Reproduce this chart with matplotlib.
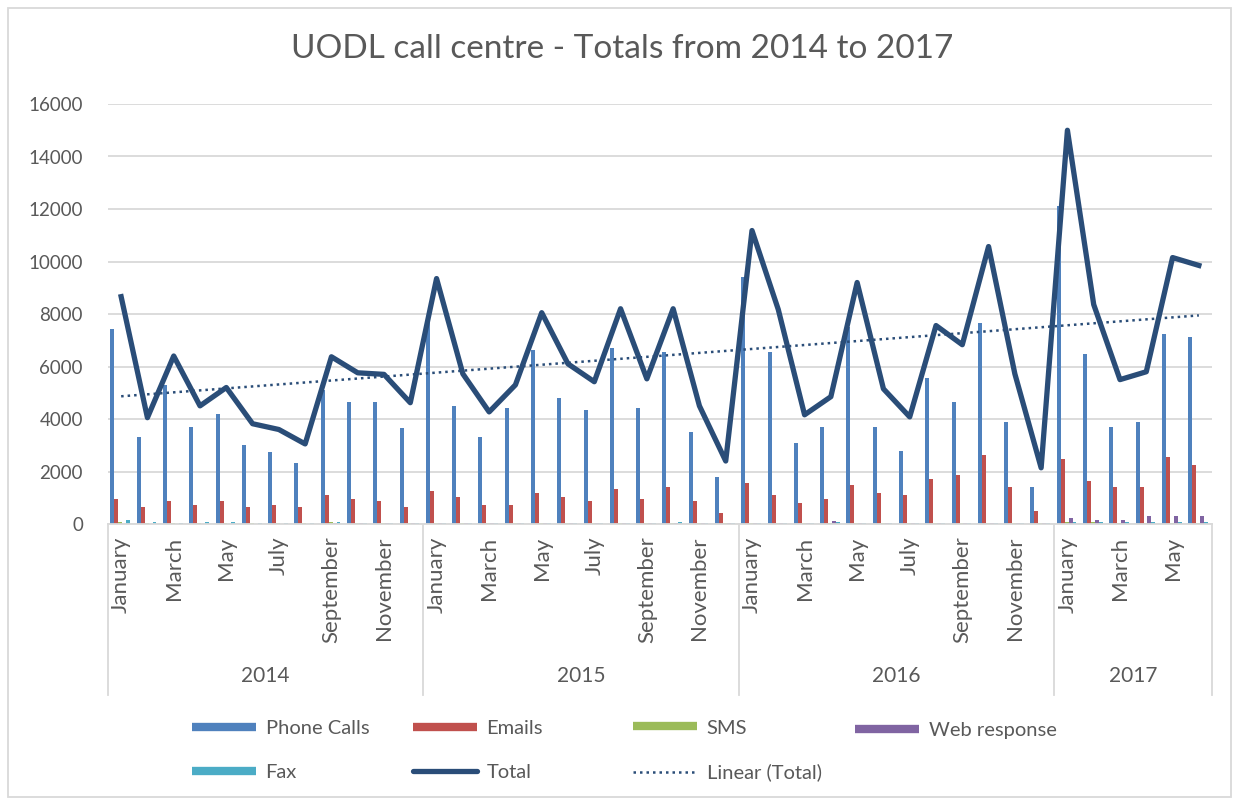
import matplotlib
matplotlib.use("Agg")
import matplotlib.pyplot as plt
from matplotlib.lines import Line2D
from matplotlib.patches import Rectangle
import matplotlib.transforms as mtransforms
import numpy as np

plt.rcParams['font.family'] = ['Lato', 'DejaVu Sans']

years = ["2014", "2015", "2016", "2017"]
months_per_year = [12, 12, 12, 6]
month_names = ["January", "February", "March", "April", "May", "June", "July",
               "August", "September", "October", "November", "December"]

phone = [7440, 3300, 5300, 3680, 4200, 3000, 2760, 2330, 5100, 4660, 4660, 3670,
         7800, 4500, 3300, 4430, 6620, 4800, 4350, 6690, 4430, 6540, 3520, 1800,
         9400, 6540, 3090, 3680, 7500, 3680, 2790, 5550, 4650, 7660, 3900, 1410,
         12100, 6470, 3680, 3900, 7220, 7140]
emails = [970, 660, 890, 740, 890, 660, 740, 660, 1110, 970, 890, 660,
          1270, 1030, 740, 740, 1200, 1030, 890, 1340, 970, 1410, 890, 430,
          1570, 1110, 810, 970, 1490, 1200, 1110, 1720, 1860, 2620, 1410, 510,
          2470, 1650, 1420, 1420, 2550, 2250]
sms = [60, 50, 40, 40, 50, 40, 30, 40, 60, 40, 50, 40,
       40, 30, 30, 30, 30, 40, 40, 40, 40, 50, 40, 40,
       40, 40, 40, 40, 50, 40, 40, 40, 40, 40, 40, 40,
       60, 60, 40, 40, 50, 40]
web = [10, 10, 10, 10, 10, 10, 10, 10, 40, 40, 50, 50,
       40, 40, 50, 40, 50, 50, 40, 50, 50, 50, 40, 50,
       50, 40, 50, 100, 50, 50, 50, 40, 40, 50, 40, 40,
       240, 160, 140, 300, 300, 300]
fax = [150, 70, 50, 60, 60, 50, 40, 50, 60, 50, 50, 50,
       50, 40, 50, 40, 50, 50, 50, 50, 50, 60, 50, 50,
       50, 50, 50, 60, 40, 50, 50, 50, 40, 50, 50, 50,
       80, 90, 60, 60, 70, 60]
total = [8660, 4050, 6400, 4500, 5200, 3820, 3600, 3050, 6370, 5760, 5700, 4620,
         9350, 5720, 4270, 5300, 8050, 6100, 5420, 8200, 5530, 8200, 4500, 2400,
         11180, 8170, 4160, 4850, 9200, 5150, 4080, 7560, 6830, 10570, 5720, 2140,
         15000, 8360, 5500, 5800, 10150, 9850]

series_names = ["Phone Calls", "Emails", "SMS", "Web response", "Fax"]
series_vals = [phone, emails, sms, web, fax]
colors = ["#4F81BD", "#C0504D", "#9BBB59", "#8064A2", "#4BACC6"]
total_color = "#2A4D78"
grey_text = "#595959"
grid_color = "#D9D9D9"

W, H = 1239, 805
fig = plt.figure(figsize=(W / 100, H / 100), dpi=100)
fig.patch.set_facecolor("white")
ax = fig.add_axes([108 / W, 1 - 524 / H, (1212 - 108) / W, (524 - 104) / H])

n = len(total)
x = np.arange(n)
bw = 0.15
for i, (name, vals, c) in enumerate(zip(series_names, series_vals, colors)):
    ax.bar(x + (i - 2) * bw - 0.03, vals, width=bw, color=c, label=name, zorder=2)

ax.plot(x, total, color=total_color, lw=3.8, solid_joinstyle="round", zorder=4)
coef = np.polyfit(x, total, 1)
trend = np.polyval(coef, x)
ax.plot(x, trend, color=total_color, lw=1.8, linestyle=(0, (1, 1.6)), zorder=3)

ax.set_xlim(-0.5, n - 0.5)
ax.set_ylim(0, 16000)
ax.set_yticks(np.arange(0, 16001, 2000))
ax.yaxis.grid(True, color=grid_color, lw=1.3, zorder=0)
ax.set_axisbelow(True)
for s in ["top", "right", "left"]:
    ax.spines[s].set_visible(False)
ax.spines["bottom"].set_color(grid_color)
ax.spines["bottom"].set_linewidth(1.3)
ax.tick_params(axis="y", length=0, pad=18, labelsize=13.5, labelcolor=grey_text)

# month tick labels (every other month)
month_labels = []
for ny in months_per_year:
    month_labels += month_names[:ny]
tick_pos = [i for i in range(n) if (i % 12) % 2 == 0]
ax.set_xticks(tick_pos)
ax.set_xticklabels([month_labels[i] for i in tick_pos], rotation=90,
                   fontsize=16, color=grey_text, va="top")
ax.tick_params(axis="x", length=0, pad=9)

# year group labels and separators
trans = mtransforms.blended_transform_factory(ax.transData, ax.transAxes)
bottom_sep = (524 - 695) / (524 - 104)
year_y = (524 - 676) / (524 - 104)
start = 0
bounds = [-0.5]
for y, ny in zip(years, months_per_year):
    ax.text(start + ny / 2 - 0.5, year_y, y, transform=trans, ha="center",
            va="center", fontsize=15, color=grey_text)
    start += ny
    bounds.append(start - 0.5)
for b in bounds:
    ax.plot([b, b], [0, bottom_sep], transform=trans, color=grid_color,
            lw=1.3, clip_on=False)

fig.text(622 / W, 1 - 49 / H, "UODL call centre - Totals from 2014 to 2017",
         fontsize=24, color=grey_text, ha="center", va="center")

# legend: four equal-width columns, placed one column at a time
h = [Line2D([0], [0], color=c, lw=6, solid_capstyle="butt") for c in colors]
h_total = Line2D([0], [0], color=total_color, lw=3.8, solid_capstyle="round")
h_lin = Line2D([0], [0], color=total_color, lw=1.8, linestyle=(0, (1, 1.6)))
columns = [
    ([h[0], h[4]], ["Phone Calls", "Fax"], 192),
    ([h[1], h_total], ["Emails", "Total"], 413),
    ([h[2], h_lin], ["SMS", "Linear (Total)"], 633),
    ([h[3]], ["Web response"], 855),
]
for hs, ls, xpix in columns:
    ypix = 750.5 if len(hs) == 2 else 730
    leg = fig.legend(hs, ls, loc="center left",
                     bbox_to_anchor=(xpix / W, 1 - ypix / H), frameon=False,
                     fontsize=14.5, handlelength=3.2, handletextpad=0.45,
                     borderpad=0, borderaxespad=0, labelspacing=1.35)
    for t in leg.get_texts():
        t.set_color(grey_text)

fig.patches.append(Rectangle((8 / W, 8 / H), 1 - 16 / W, 1 - 16 / H,
                             transform=fig.transFigure, fill=False,
                             edgecolor=grid_color, lw=1.3))

fig.savefig("out.png", dpi=100)
